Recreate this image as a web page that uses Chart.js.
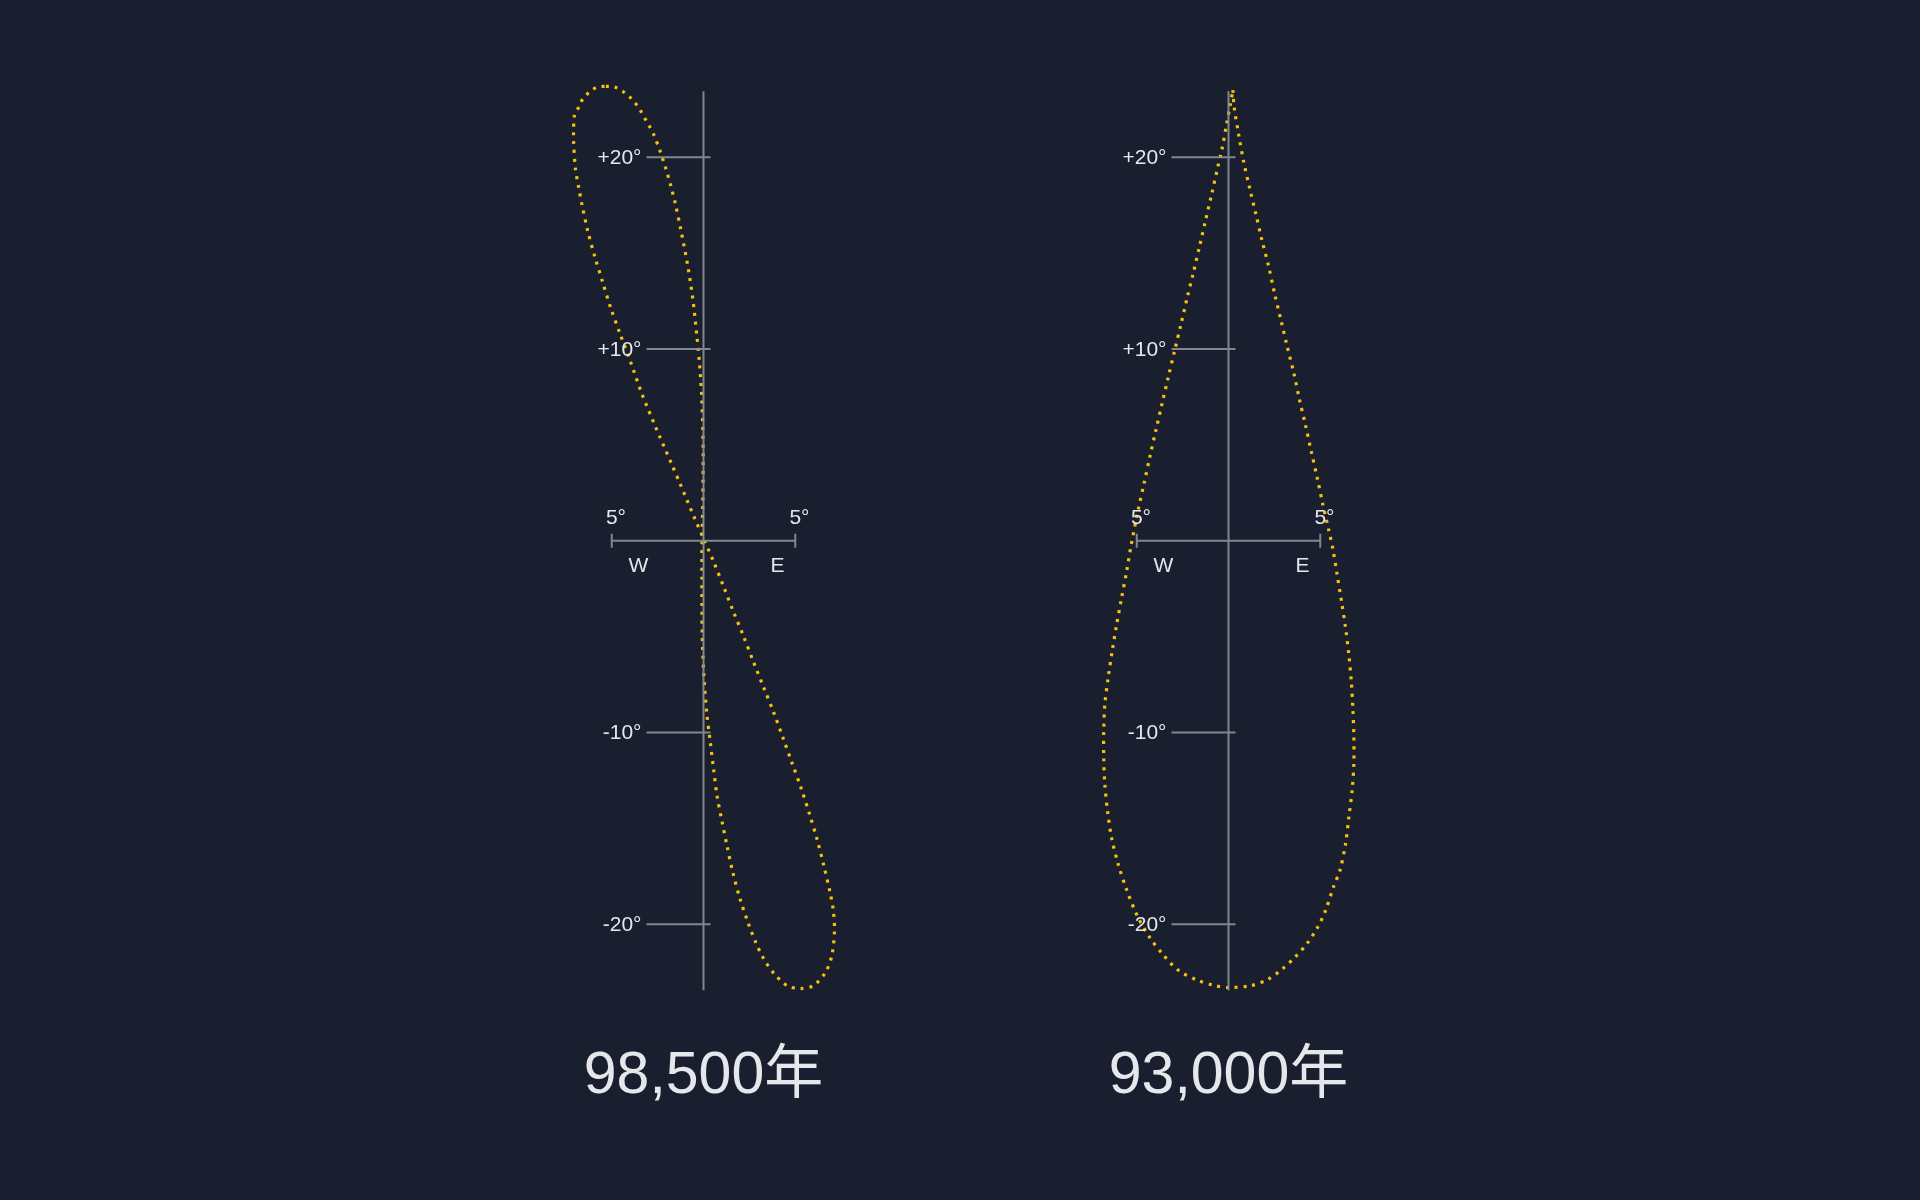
<!DOCTYPE html>
<html>
<head>
<meta charset="utf-8">
<script src="https://cdn.jsdelivr.net/npm/chart.js@4.4.0/dist/chart.umd.min.js"></script>
<style>
  html, body { margin: 0; padding: 0; background: #191f2e; }
  body { width: 1920px; height: 1200px; position: relative; overflow: hidden; }
  canvas { position: absolute; top: 0; }
  #left { left: 520px; }
  #right { left: 1045px; }
</style>
</head>
<body>
<canvas id="left" width="367" height="1200" style="width:367px;height:1200px"></canvas>
<canvas id="right" width="367" height="1200" style="width:367px;height:1200px"></canvas>
<script>
var titles = ["98,500年", "93,000年"];
var yTickValues = [20, 10, -10, -20];
var yTickLabels = ["+20°", "+10°", "-10°", "-20°"];
var barEnds = [-5, 5];
var barLabels = ["5°", "5°"];
var dirLabels = ["W", "E"];
var axisReach = 23.44;

// 98,500 years: east-west offset (deg) and declination (deg)
var x98500 = [-5.32, -4.85, -4.41, -4.03, -3.7, -3.43, -3.18, -2.94, -2.72, -2.36, -2.05, -1.78, -1.54, -1.23, -0.87, -0.58, -0.36, -0.22, -0.09, -0.02,
  -0.04, -0.08, -0.09, -0.07, 0, 0.18, 0.37, 0.55, 0.73, 1.0, 1.28, 1.6, 2.0, 2.46, 2.83, 3.28, 3.83, 4.56, 5.28, 5.98,
  6.65, 7.0, 7.14, 7.07, 6.89, 6.56, 6.2, 5.78, 5.32, 4.83, 4.34, 3.83, 3.28, 2.73, 2.19, 1.64, 1.09, 0.55, 0.03, -0.51,
  -1.27, -1.69, -2.64, -3.37, -4.0, -4.55, -5.04, -5.5, -5.92, -6.32, -6.63, -6.81, -6.98, -7.08, -7.08, -7.03, -6.77, -6.57, -6.21, -5.81, -5.32];
var y98500 = [23.7, 23.67, 23.44, 23.15, 22.8, 22.43, 22.0, 21.6, 21.2, 20.3, 19.4, 18.5, 17.6, 16.2, 14.4, 12.6, 10.66, 9.27, 7.36, 4.75,
  2.0, 0, -2.0, -4.8, -6.7, -9.0, -10.5, -11.9, -13.25, -14.6, -15.9, -17.3, -18.7, -20.0, -20.9, -21.8, -22.55, -23.2, -23.35, -23.2,
  -22.5, -21.6, -20.3, -19.25, -18.3, -16.95, -15.6, -14.26, -12.9, -11.6, -10.3, -8.96, -7.65, -6.33, -5.0, -3.72, -2.38, -1.08, 0.05, 1.24,
  2.96, 3.9, 6.0, 7.7, 9.4, 10.8, 12.1, 13.5, 14.8, 16.2, 17.56, 18.47, 19.4, 20.8, 21.27, 22.2, 22.65, 23.06, 23.4, 23.65, 23.7];

// 93,000 years
var x93000 = [0.24, 0.31, 0.55, 0.82, 1.15, 1.5, 1.83, 2.19, 2.51, 2.86, 3.19, 3.55, 3.86, 4.19, 4.5, 4.83, 5.14, 5.46, 5.68, 5.92,
  6.16, 6.38, 6.56, 6.69, 6.78, 6.83, 6.83, 6.74, 6.56, 6.38, 6.07, 5.74, 5.28, 4.83, 4.28, 3.64, 2.97, 2.1, 1.19, 0,
  -0.73, -1.73, -2.73, -3.55, -4.28, -4.95, -5.55, -6.0, -6.37, -6.59, -6.74, -6.8, -6.8, -6.74, -6.56, -6.34, -6.1, -5.83, -5.55, -5.3,
  -4.92, -4.6, -4.28, -3.95, -3.62, -3.28, -2.95, -2.6, -2.27, -1.91, -1.58, -1.24, -0.91, -0.58, -0.36, -0.09, 0.09, 0.24];
var y93000 = [23.5, 22.6, 21.2, 19.8, 18.4, 17.0, 15.65, 14.3, 12.9, 11.5, 10.17, 8.78, 7.4, 6.05, 4.7, 3.3, 1.9, 0.57, -0.38, -1.77,
  -3.17, -4.55, -5.95, -7.3, -8.8, -10.2, -11.6, -13.0, -14.4, -15.8, -17.2, -18.0, -19.3, -20.2, -21.0, -21.7, -22.3, -22.9, -23.2, -23.3,
  -23.2, -22.9, -22.4, -21.6, -20.7, -19.6, -18.2, -16.9, -15.5, -14.1, -12.7, -11.3, -9.95, -8.55, -7.16, -5.77, -4.38, -3.0, -1.6, -0.2,
  1.62, 3.0, 4.4, 5.79, 7.15, 8.54, 9.87, 11.25, 12.6, 14.0, 15.35, 16.75, 18.1, 19.5, 20.4, 21.8, 22.7, 23.5];

var axisColor = "rgba(140, 143, 150, 0.92)";
var textColor = "#e6e7ea";
var curveColor = "#f4c20d";
var labelFont = "21px 'Liberation Sans', Arial, sans-serif";

// draws the cross shaped axes with the tick marks and labels
var crossAxes = {
  id: "crossAxes",
  afterDatasetsDraw: function (chart) {
    var ctx = chart.ctx;
    var xs = chart.scales.x;
    var ys = chart.scales.y;
    var cx = xs.getPixelForValue(0);
    var cy = ys.getPixelForValue(0);
    var bx0 = xs.getPixelForValue(barEnds[0]);
    var bx1 = xs.getPixelForValue(barEnds[1]);

    ctx.save();
    ctx.strokeStyle = axisColor;
    ctx.lineWidth = 2;
    ctx.beginPath();
    ctx.moveTo(cx, ys.getPixelForValue(axisReach));
    ctx.lineTo(cx, ys.getPixelForValue(-axisReach));
    yTickValues.forEach(function (v) {
      var py = ys.getPixelForValue(v);
      ctx.moveTo(cx - 57, py);
      ctx.lineTo(cx + 7, py);
    });
    ctx.moveTo(bx0, cy);
    ctx.lineTo(bx1, cy);
    ctx.moveTo(bx0, cy - 7);
    ctx.lineTo(bx0, cy + 7);
    ctx.moveTo(bx1, cy - 7);
    ctx.lineTo(bx1, cy + 7);
    ctx.stroke();

    ctx.fillStyle = textColor;
    ctx.font = labelFont;
    ctx.textBaseline = "middle";
    ctx.textAlign = "right";
    yTickValues.forEach(function (v, i) {
      ctx.fillText(yTickLabels[i], cx - 62, ys.getPixelForValue(v) + 1);
    });

    ctx.textAlign = "left";
    var half = ctx.measureText("5").width / 2;
    ctx.fillText(barLabels[0], bx0 - half, cy - 23);
    ctx.fillText(barLabels[1], bx1 - half, cy - 23);

    ctx.textAlign = "center";
    ctx.fillText(dirLabels[0], cx - 65, cy + 25);
    ctx.fillText(dirLabels[1], cx + 74, cy + 25);
    ctx.restore();
  }
};

function makePoints(xv, yv) {
  var pts = [];
  for (let i = 0; i < xv.length; i++) {
    pts.push({ x: xv[i], y: yv[i] });
  }
  return pts;
}

function drawPanel(id, xv, yv, title) {
  new Chart(document.getElementById(id), {
    type: "scatter",
    data: {
      datasets: [{
        data: makePoints(xv, yv),
        showLine: true,
        borderColor: curveColor,
        borderWidth: 3.2,
        borderDash: [3, 5.8],
        borderCapStyle: "butt",
        tension: 0.3,
        pointRadius: 0,
        pointHoverRadius: 0,
        fill: false
      }]
    },
    options: {
      responsive: false,
      animation: false,
      layout: { padding: 0 },
      scales: {
        x: { type: "linear", min: -10, max: 10, display: false },
        y: { type: "linear", min: -25, max: 28.2, display: false }
      },
      plugins: {
        legend: { display: false },
        tooltip: { enabled: false },
        title: {
          display: true,
          position: "bottom",
          text: title,
          color: textColor,
          font: { size: 59, weight: "normal", family: "'Liberation Sans', Arial, 'Noto Sans CJK SC', sans-serif", lineHeight: 1.2 },
          padding: { top: 21, bottom: 88 }
        }
      }
    },
    plugins: [crossAxes]
  });
}

drawPanel("left", x98500, y98500, titles[0]);
drawPanel("right", x93000, y93000, titles[1]);
</script>
</body>
</html>
